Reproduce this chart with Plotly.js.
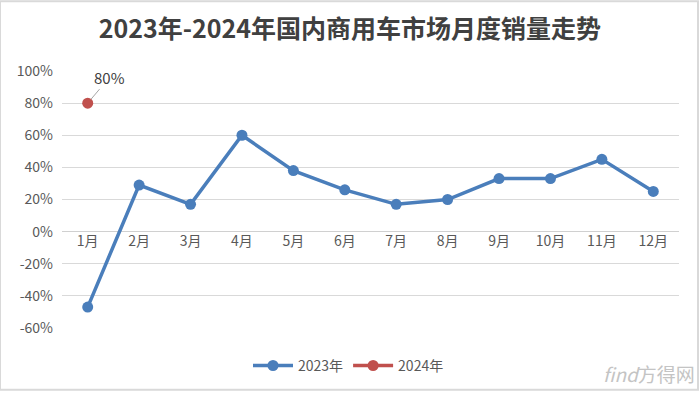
<!DOCTYPE html>
<html>
<head>
<meta charset="utf-8">
<script src="https://cdn.plot.ly/plotly-3.0.1.min.js"></script>
<style>html,body{margin:0;padding:0;background:#fff;}#chart{width:700px;height:393px;}</style>
</head>
<body>
<div id="chart"></div>
<script>
const months = ['1月','2月','3月','4月','5月','6月','7月','8月','9月','10月','11月','12月'];
const series2023 = [-47, 29, 17, 60, 38, 26, 17, 20, 33, 33, 45, 25];
const months2024 = ['1月'];
const series2024 = [80];
const titleText = '2023年-2024年国内商用车市场月度销量走势';
const yTicks = [-60, -40, -20, 0, 20, 40, 60, 80, 100];
const yTickText = yTicks.map(v => v + '%');

const FONT = '"Noto Sans CJK SC", "Noto Sans", sans-serif';
const traces = [
  {x: months, y: series2023, name: '2023年', type: 'scatter', mode: 'lines+markers',
   line: {color: '#4A7EBB', width: 3.5}, marker: {color: '#4A7EBB', size: 11}},
  {x: months2024, y: series2024, name: '2024年', type: 'scatter', mode: 'lines+markers',
   line: {color: '#C0504D', width: 3.5}, marker: {color: '#C0504D', size: 11}}
];
const layout = {
  width: 700, height: 393,
  margin: {l: 62, r: 21, t: 71, b: 64},
  paper_bgcolor: '#fff', plot_bgcolor: '#fff',
  font: {family: FONT, color: '#595959', size: 14},
  title: {text: '<b>' + titleText + '</b>', x: 0.5, xanchor: 'center', xref: 'container',
          y: 0.925, yanchor: 'middle',
          font: {size: 25, color: '#404040', family: FONT}},
  xaxis: {type: 'category', categoryorder: 'array', categoryarray: months,
          anchor: 'free', position: 97/258, showline: false, showgrid: false,
          ticks: '', tickfont: {size: 14, color: '#595959'}, range: [-0.5, 11.5], fixedrange: true},
  yaxis: {range: [-60, 100], tickmode: 'array', tickvals: yTicks, ticktext: yTickText, showgrid: true,
          gridcolor: '#D9D9D9', gridwidth: 1, zeroline: true, zerolinecolor: '#D0D0D0', zerolinewidth: 1.5,
          showline: false, ticks: '', ticklabelstandoff: 8, tickfont: {size: 14, color: '#595959'}},
  showlegend: true,
  legend: {orientation: 'h', x: 0.5 - 22/617, xanchor: 'center', y: -0.143, yanchor: 'middle',
           font: {size: 14, color: '#595959'}, itemwidth: 40},
  annotations: [
    {x: months2024[0], y: series2024[0], xref: 'x', yref: 'y', text: series2024[0] + '%',
     showarrow: true, arrowhead: 0, arrowwidth: 1, arrowcolor: '#A6A6A6', ax: 22, ay: -26,
     standoff: 5, font: {size: 15, color: '#404040'}},
    {x: 1 + 18/617, xref: 'paper', xanchor: 'right', y: -0.178, yref: 'paper', yanchor: 'middle',
     text: '<i>find</i>方得网', showarrow: false, font: {size: 19, color: '#C4C4C4'}}
  ],
  shapes: [
    {type: 'rect', xref: 'paper', yref: 'paper', x0: -62/617, x1: 1 + 19/617, y0: -62/258, y1: 1 + 70/258,
     line: {color: '#D9D9D9', width: 2}, fillcolor: 'rgba(0,0,0,0)', layer: 'below'}
  ]
};
Plotly.newPlot('chart', traces, layout, {staticPlot: true, displayModeBar: false});
</script>
</body>
</html>
